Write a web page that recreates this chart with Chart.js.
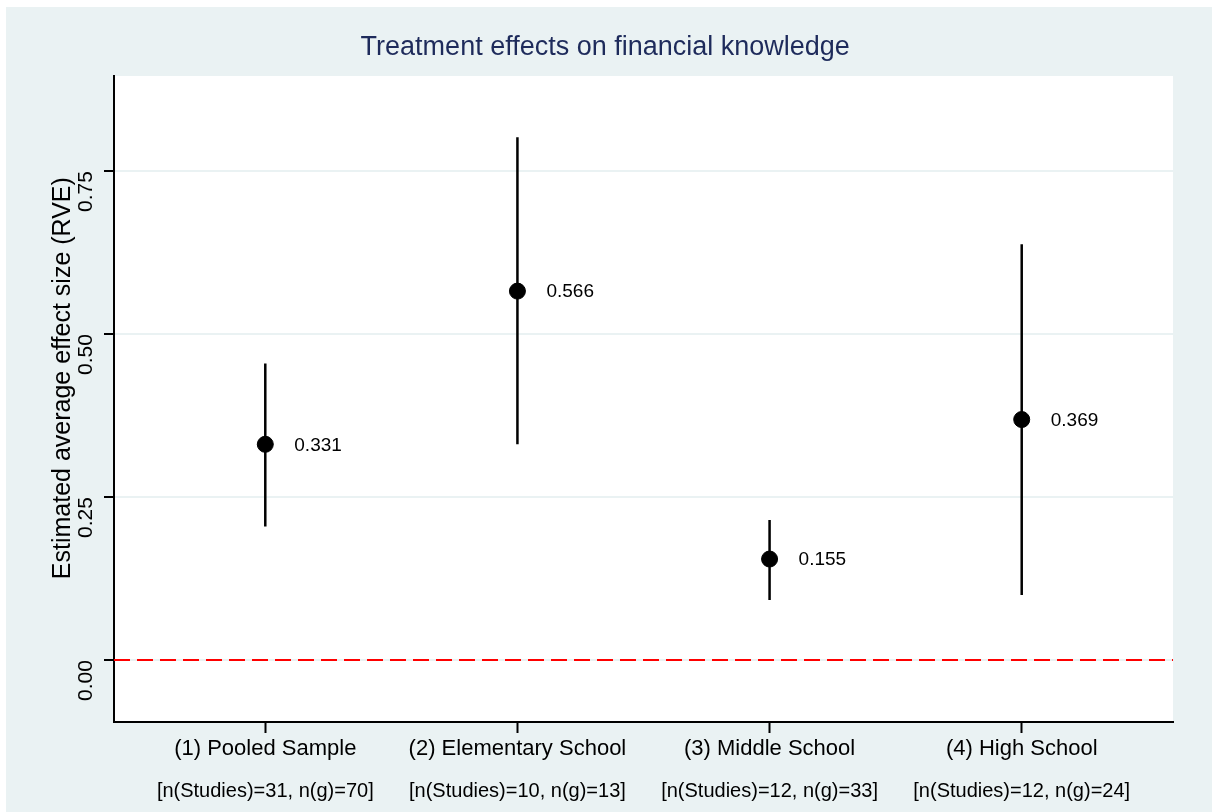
<!DOCTYPE html>
<html>
<head>
<meta charset="utf-8">
<script src="https://cdn.jsdelivr.net/npm/chart.js@4"></script>
<style>
  html, body { margin: 0; padding: 0; background: #ffffff; }
  #wrap { position: absolute; left: 6px; top: 7px; width: 1206px; height: 805px; }
</style>
</head>
<body>
<div id="wrap"><canvas id="c"></canvas></div>
<script>
// ---- data ----
const categories = ["(1) Pooled Sample", "(2) Elementary School", "(3) Middle School", "(4) High School"];
const sampleInfo = ["[n(Studies)=31, n(g)=70]", "[n(Studies)=10, n(g)=13]", "[n(Studies)=12, n(g)=33]", "[n(Studies)=12, n(g)=24]"];
const estimates = [0.331, 0.566, 0.155, 0.369];
const ciLower = [0.205, 0.331, 0.092, 0.100];
const ciUpper = [0.455, 0.802, 0.215, 0.638];
const yTicks = [0, 0.25, 0.5, 0.75];
const positions = [1, 2, 3, 4];

const FONT = "'Liberation Sans', Arial, Helvetica, sans-serif";
const BG = '#EAF2F3';

// error bar segments separated by gaps
const ciData = [];
positions.forEach((p, i) => {
  ciData.push({x: p, y: ciLower[i]});
  ciData.push({x: p, y: ciUpper[i]});
  ciData.push({x: p, y: null});
});
const pointData = positions.map((p, i) => ({x: p, y: estimates[i]}));
const zeroLine = [{x: 0.4, y: 0}, {x: 4.6, y: 0}];

const bgPlugin = {
  id: 'bg',
  beforeDraw(chart) {
    const {ctx, chartArea: a} = chart;
    ctx.save();
    ctx.fillStyle = BG;
    ctx.fillRect(0, 0, chart.width, chart.height);
    ctx.fillStyle = '#ffffff';
    ctx.fillRect(a.left, a.top, a.right - a.left, a.bottom - a.top);
    ctx.restore();
  }
};

const valueLabels = {
  id: 'valueLabels',
  afterDatasetsDraw(chart) {
    const {ctx} = chart;
    const xs = chart.scales.x, ys = chart.scales.y;
    ctx.save();
    ctx.font = "19px " + FONT;
    ctx.fillStyle = '#000000';
    ctx.textAlign = 'left';
    ctx.textBaseline = 'middle';
    positions.forEach((p, i) => {
      ctx.fillText(estimates[i].toFixed(3), xs.getPixelForValue(p) + 29, ys.getPixelForValue(estimates[i]) + 1);
    });
    ctx.restore();
  }
};

new Chart(document.getElementById('c'), {
  type: 'scatter',
  data: {
    datasets: [
      { type: 'line', data: zeroLine, borderColor: '#FF0000', borderWidth: 2, borderDash: [16, 7],
        pointRadius: 0, fill: false, order: 3 },
      { type: 'line', data: ciData, borderColor: '#000000', borderWidth: 2.5, pointRadius: 0,
        spanGaps: false, fill: false, order: 2 },
      { type: 'scatter', data: pointData, backgroundColor: '#000000', borderColor: '#000000',
        pointRadius: 8, pointHoverRadius: 8, order: 1 }
    ]
  },
  options: {
    responsive: true,
    maintainAspectRatio: false,
    animation: false,
    layout: { padding: 0 },
    plugins: {
      legend: { display: false },
      tooltip: { enabled: false },
      title: {
        display: true,
        text: 'Treatment effects on financial knowledge ',
        color: '#1E2B5B',
        font: { family: FONT, size: 27, weight: 'normal' },
        padding: { top: 24, bottom: 12.6 }
      }
    },
    scales: {
      x: {
        type: 'linear', position: 'bottom', min: 0.4, max: 4.6, weight: 0,
        afterBuildTicks(s) { s.ticks = positions.map(v => ({value: v})); },
        afterFit(s) { s.height = 45; },
        border: { display: true, color: '#000000', width: 2 },
        grid: { display: true, drawOnChartArea: false, tickColor: '#000000', tickLength: 11, tickWidth: 2 },
        ticks: {
          color: '#000000', font: { family: FONT, size: 22 }, padding: 3, maxRotation: 0, minRotation: 0,
          callback(v) { const i = positions.indexOf(v); return i >= 0 ? categories[i] : ''; }
        }
      },
      x2: {
        type: 'linear', position: 'bottom', min: 0.4, max: 4.6, weight: 1,
        afterBuildTicks(s) { s.ticks = positions.map(v => ({value: v})); },
        afterFit(s) { s.height = 45; },
        border: { display: false },
        grid: { display: false, drawTicks: false },
        ticks: {
          color: '#000000', font: { family: FONT, size: 20 }, padding: 12, maxRotation: 0, minRotation: 0,
          callback(v) { const i = positions.indexOf(v); return i >= 0 ? sampleInfo[i] : ''; }
        }
      },
      y: {
        type: 'linear', position: 'left', min: -0.095, max: 0.896,
        afterBuildTicks(s) { s.ticks = yTicks.map(v => ({value: v})); },
        afterFit(s) { s.width = 108; },
        border: { display: true, color: '#000000', width: 2 },
        grid: { display: true, color: BG, lineWidth: 2, tickColor: '#000000', tickLength: 10, tickWidth: 2 },
        ticks: {
          color: '#000000', font: { family: FONT, size: 21 }, padding: 18, minRotation: 90, maxRotation: 90,
          callback(v) { return v.toFixed(2); }
        },
        title: {
          display: true,
          text: '      Estimated average effect size (RVE)',
          color: '#000000',
          font: { family: FONT, size: 25 },
          padding: { top: 42, bottom: 0 }
        }
      },
      yRight: {
        type: 'linear', position: 'right', min: -0.095, max: 0.896,
        afterFit(s) { s.width = 39; },
        border: { display: false },
        grid: { display: false, drawTicks: false },
        ticks: { display: false }
      }
    }
  },
  plugins: [bgPlugin, valueLabels]
});
</script>
</body>
</html>
